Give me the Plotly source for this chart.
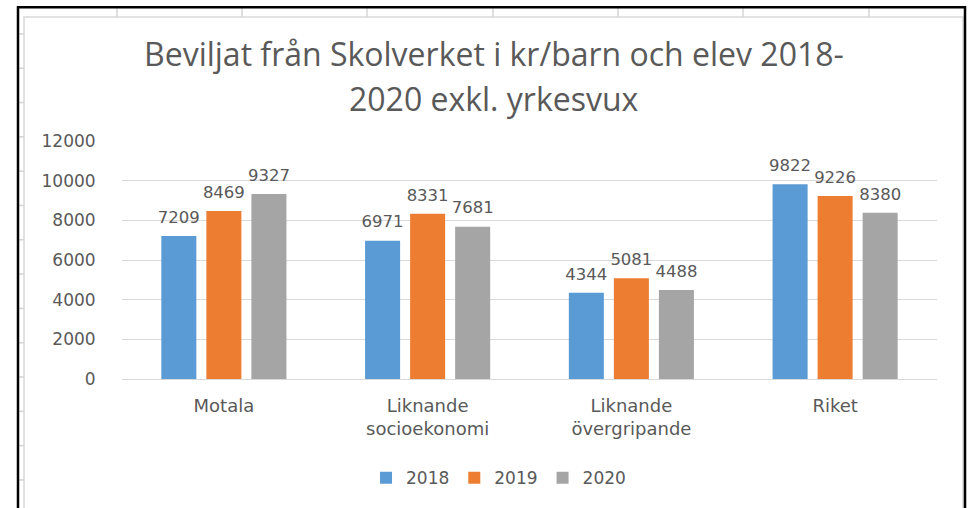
import plotly.graph_objects as go

categories = ["Motala", "Liknande<br>socioekonomi", "Liknande<br>övergripande", "Riket"]
years = ["2018", "2019", "2020"]
values_2018 = [7209, 6971, 4344, 9822]
values_2019 = [8469, 8331, 5081, 9226]
values_2020 = [9327, 7681, 4488, 8380]
y_ticks = [0, 2000, 4000, 6000, 8000, 10000, 12000]

series = [values_2018, values_2019, values_2020]
colors = ["#5B9BD5", "#ED7D31", "#A5A5A5"]

W, H = 971, 508
L, R, T, B = 122, 34, 141, 127
PW, PH = W - L - R, H - T - B
BARGAP = 0.337


def px(x):
    return (x - L) / PW


def py(y):
    return 1 - (y - T) / PH


TXT = "#595959"
AXFONT = "DejaVu Sans"

fig = go.Figure()
for name, vals, col in zip(years, series, colors):
    fig.add_trace(go.Bar(
        name=name, x=categories, y=vals,
        marker=dict(color=col, line=dict(width=0)),
        hoverinfo="x+y+name",
    ))
for name, vals in zip(years, series):
    fig.add_trace(go.Scatter(
        x=categories, y=vals, mode="markers+text",
        text=[str(v) for v in vals], textposition="top center",
        textfont=dict(family=AXFONT, size=16.5, color=TXT),
        marker=dict(size=13, opacity=0),
        showlegend=False, hoverinfo="skip", cliponaxis=False,
    ))

shapes = []
shapes.append(dict(type="rect", xref="paper", yref="paper",
                   x0=px(24), x1=px(963), y0=py(16), y1=py(520),
                   line=dict(color="#D9D9D9", width=1.5), layer="below"))
for gx in [117, 242, 367, 493, 618, 743, 869]:
    shapes.append(dict(type="line", xref="paper", yref="paper",
                       x0=px(gx), x1=px(gx), y0=py(6), y1=py(16),
                       line=dict(color="#D4D4D4", width=1.5)))
for k in range(14):
    gy = 33 + k * 34.6
    shapes.append(dict(type="line", xref="paper", yref="paper",
                       x0=px(18), x1=px(24), y0=py(gy), y1=py(gy),
                       line=dict(color="#D4D4D4", width=1.5)))
shapes.append(dict(type="rect", xref="paper", yref="paper",
                   x0=px(18), x1=px(965), y0=py(6), y1=py(520),
                   line=dict(color="#000000", width=2.5)))

fig.update_layout(
    width=W, height=H,
    margin=dict(l=L, r=R, t=T, b=B, pad=0),
    paper_bgcolor="white", plot_bgcolor="white",
    barmode="group", bargap=BARGAP, bargroupgap=0.222,
    scattermode="group", scattergap=BARGAP,
    showlegend=True,
    legend=dict(orientation="h", x=0.462, xanchor="center", y=py(481), yanchor="middle",
                font=dict(family=AXFONT, size=17, color=TXT),
                itemwidth=30, traceorder="normal"),
    shapes=shapes,
    annotations=[
        dict(text="Beviljat från Skolverket i kr/barn och elev 2018-", xref="paper", yref="paper",
             x=px(494), y=py(53), xanchor="center", yanchor="middle", showarrow=False,
             font=dict(family="Open Sans", size=32, color=TXT)),
        dict(text="2020 exkl. yrkesvux", xref="paper", yref="paper",
             x=px(494), y=py(98), xanchor="center", yanchor="middle", showarrow=False,
             font=dict(family="Open Sans", size=32, color=TXT)),
    ],
    xaxis=dict(showgrid=False, showline=True, linecolor="#D9D9D9", linewidth=1,
               ticks="outside", ticklen=10, tickcolor="rgba(0,0,0,0)",
               tickfont=dict(family=AXFONT, size=18, color=TXT), fixedrange=True),
    yaxis=dict(range=[0, 12000], tickvals=y_ticks, ticktext=[str(v) for v in y_ticks],
               showgrid=True, gridcolor="#D9D9D9", gridwidth=1, zeroline=False,
               showline=False, ticks="outside", ticklen=22, tickcolor="rgba(0,0,0,0)",
               tickfont=dict(family=AXFONT, size=17, color=TXT), fixedrange=True),
)

fig.write_html("out.html", config={"displayModeBar": False},
               post_script="document.body.style.margin='0';")
